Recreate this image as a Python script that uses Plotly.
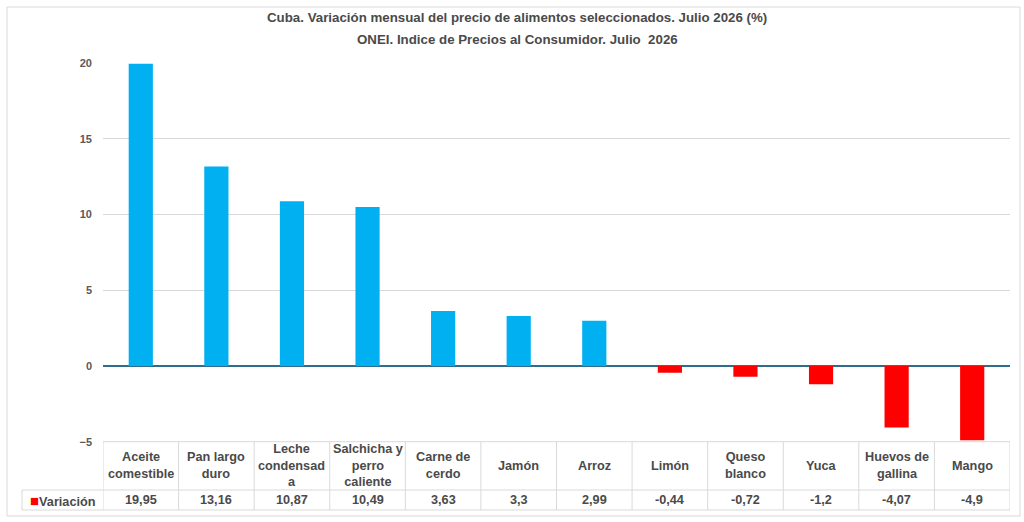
import plotly.graph_objects as go

categories = ["Aceite comestible", "Pan largo duro", "Leche condensada", "Salchicha y perro caliente",
              "Carne de cerdo", "Jamón", "Arroz", "Limón", "Queso blanco", "Yuca",
              "Huevos de gallina", "Mango"]
header_labels = ["Aceite<br>comestible", "Pan largo<br>duro", "Leche<br>condensad<br>a",
                 "Salchicha y<br>perro<br>caliente", "Carne de<br>cerdo", "Jamón", "Arroz", "Limón",
                 "Queso<br>blanco", "Yuca", "Huevos de<br>gallina", "Mango"]
values = [19.95, 13.16, 10.87, 10.49, 3.63, 3.3, 2.99, -0.44, -0.72, -1.2, -4.07, -4.9]
series_name = "Variación"
y_ticks = [-5, 0, 5, 10, 15, 20]
title_1 = "Cuba. Variación mensual del precio de alimentos seleccionados. Julio 2026 (%)"
title_2 = "ONEI. Indice de Precios al Consumidor. Julio  2026"

W, H = 1024, 522
POS, NEG = "#00B0F0", "#FF0000"
GRID = "#d9d9d9"
TXT = "#4a4a4a"
FONT = "Liberation Sans, Arial, sans-serif"

def px(x):
    return x / W

def py(y):
    return 1 - y / H

x_dom = [px(103), px(1010)]
y_dom = [py(441.7), py(63)]

colors = [POS if v >= 0 else NEG for v in values]
fig = go.Figure(go.Bar(x=categories, y=values, marker=dict(color=colors, line=dict(width=0)),
                       width=0.32, name=series_name, showlegend=False, hoverinfo="x+y"))

fig.update_layout(
    width=W, height=H, template="none",
    margin=dict(l=0, r=0, t=0, b=0),
    paper_bgcolor="white", plot_bgcolor="white",
    showlegend=False,
    xaxis=dict(domain=x_dom, type="category", range=[-0.5, len(categories) - 0.5],
               showticklabels=False, showgrid=False, zeroline=False, showline=False, ticks=""),
    yaxis=dict(domain=y_dom, range=[min(y_ticks), max(y_ticks)], tickvals=y_ticks,
               showgrid=True, gridcolor=GRID, gridwidth=1, zeroline=True, zerolinecolor="#2f6d8c",
               zerolinewidth=2, showline=False, ticks="", ticklabelstandoff=10,
               tickfont=dict(family=FONT, size=11, color="#595959", weight="bold")),
)

shapes = []
anns = []
# outer border
shapes.append(dict(type="rect", xref="paper", yref="paper", x0=px(7), x1=px(1020), y0=py(516), y1=py(7),
                   line=dict(color=GRID, width=1), fillcolor="rgba(0,0,0,0)", layer="below"))

# titles
title_font = dict(family=FONT, size=13.3, color=TXT)
anns.append(dict(text="<b>" + title_1 + "</b>", xref="paper", yref="paper", x=px(517), y=py(17),
                 showarrow=False, xanchor="center", yanchor="middle", font=title_font))
anns.append(dict(text="<b>" + title_2 + "</b>", xref="paper", yref="paper", x=px(517), y=py(40),
                 showarrow=False, xanchor="center", yanchor="middle", font=title_font))

# data table under the axis
t_top = y_dom[0]
t_mid = py(490)
t_bot = py(510)
n = len(categories)
line = dict(color=GRID, width=1)
shapes.append(dict(type="line", xref="x", yref="paper", x0=-0.5, x1=n - 0.5, y0=t_top, y1=t_top, line=line))
for yy in (t_mid, t_bot):
    shapes.append(dict(type="line", xref="paper", yref="paper", x0=px(22), x1=x_dom[1], y0=yy, y1=yy, line=line))
for i in range(n + 1):
    shapes.append(dict(type="line", xref="x", yref="paper", x0=i - 0.5, x1=i - 0.5, y0=t_bot, y1=t_top, line=line))
shapes.append(dict(type="line", xref="paper", yref="paper", x0=px(22), x1=px(22), y0=t_bot, y1=t_mid, line=line))

cell_font = dict(family=FONT, size=12.7, color=TXT)
for cat, lab, v in zip(categories, header_labels, values):
    anns.append(dict(text="<b>" + lab + "</b>", xref="x", yref="paper", x=cat, y=(t_top + t_mid) / 2,
                     showarrow=False, xanchor="center", yanchor="middle", align="center", valign="middle",
                     font=cell_font))
    anns.append(dict(text="<b>" + f"{v:g}".replace(".", ",") + "</b>", xref="x", yref="paper", x=cat,
                     y=(t_mid + t_bot) / 2, showarrow=False, xanchor="center", yanchor="middle",
                     font=cell_font))
anns.append(dict(text="<span style='color:" + NEG + ";font-size:15px'>■</span><b>" + series_name + "</b>",
                 xref="paper", yref="paper", x=px(62), y=(t_mid + t_bot) / 2, showarrow=False,
                 xanchor="center", yanchor="middle", font=cell_font))

fig.update_layout(shapes=shapes, annotations=anns)
fig.write_html("out.html", config={"displayModeBar": False},
               post_script="document.body.style.margin='0';")
